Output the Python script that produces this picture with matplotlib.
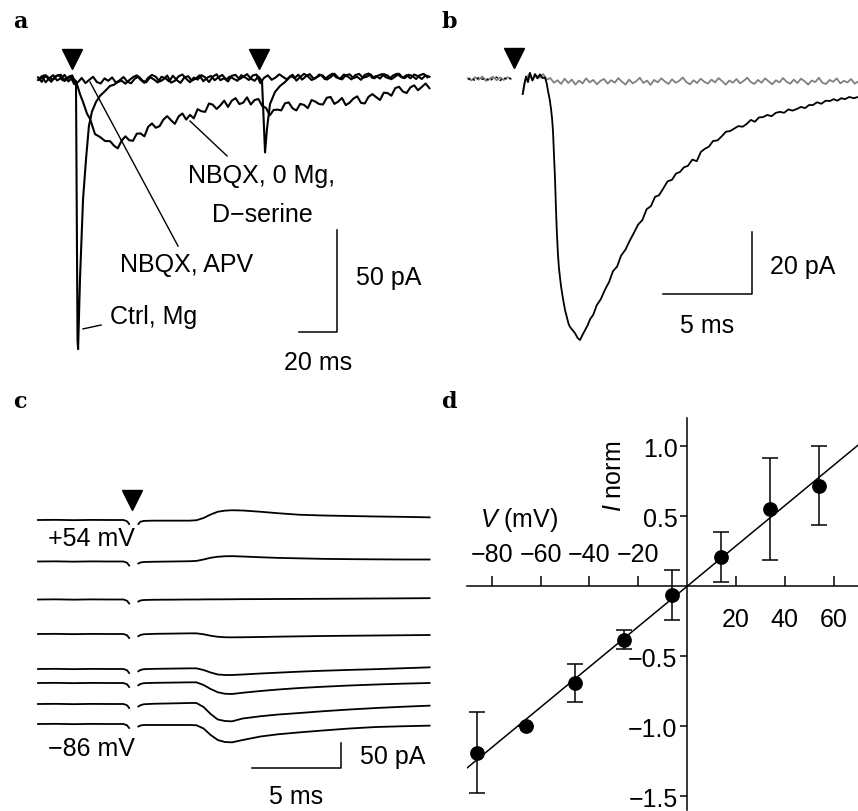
import numpy as np
import matplotlib
matplotlib.use('Agg')
import matplotlib.pyplot as plt

plt.rcParams['font.family'] = 'Liberation Sans'
plt.rcParams['font.size'] = 18
plt.rcParams['mathtext.fontset'] = 'custom'
plt.rcParams['mathtext.rm'] = 'Liberation Sans'
plt.rcParams['mathtext.it'] = 'Liberation Sans:italic'

# ---------------- panel a: EPSCs (ms, pA) ----------------
a_stim = [17.7, 116.3]

a_t_ctrl = [0, 2, 4, 6, 8, 10, 12, 14, 16, 18, 19, 20, 20.8, 21.1, 22.1, 23.7, 25.3, 26.8, 28.4,
            30.5, 32.6, 35.3, 37.9, 40, 42,
            44, 46, 48, 50, 52, 54, 56, 58, 60, 62, 64, 66, 68, 70, 72, 74, 76, 78, 80, 82, 84, 86,
            88, 90, 92, 94, 96, 98, 100, 102, 104, 106, 108, 110, 112, 114, 116,
            117.9, 119.5, 120.5, 122.1, 124.7, 127.4, 130,
            132, 134, 136, 138, 140, 142, 144, 146, 148, 150, 152, 154, 156, 158, 160, 162, 164,
            166, 168, 170, 172, 174, 176, 178, 180, 182, 184, 186, 188, 190, 192, 194, 196, 198,
            200, 202, 204, 206]
a_i_ctrl = [0.8, -1.4, 1.9, 0.3, -0.2, 1.6, 2.1, -1.0, 0.4, 1.8, -0.5, -3, -128, -132.4, -98, -59,
            -39, -23, -16, -11.3, -8.3, -5.9, -3.4, -2.8, -1.5,
            -0.8, -2.3, -0.6, 0.9, 1.8, -0.4, -1.9, 0.6, 2.0, 1.1, -1.3, -0.2, 1.7, -1.8, -0.9,
            1.3, 2.2, 0.1, -1.6, 0.7, -0.3, 1.9, 0.8, -1.5, 1.2, 2.3, -0.6, 0.4, -1.2, 1.6, 2.0,
            -0.1, 1.0, 2.4, 0.2, -0.9, 1.3,
            -1, -36, -24.5, -12.3, -6.4, -3.4, -1.5,
            0.4, 2.1, -0.8, 1.0, 2.5, 1.4, -0.5, 0.3, 2.2, 1.6, -0.3, 0.9, 2.6, 0.6, -0.2, 1.8,
            2.3, 0.4, 1.1, -0.4, 2.0, 2.7, 0.5, 1.5, 0.2, 2.4, 1.7, -0.1, 1.2, 2.6, 0.6, 1.9, 0.3,
            2.2, 1.4, 0.0, 1.8, 1.1]

a_t_apv = [1, 3, 5, 7, 9, 11, 13, 15, 17, 19, 21, 23, 25, 27, 29, 31, 33, 35, 37, 39, 41, 43, 45,
           47, 49, 51, 53, 55, 57, 59, 61, 63, 65, 67, 69, 71, 73, 75, 77, 79, 81, 83, 85, 87, 89,
           91, 93, 95, 97, 99, 101, 103, 105, 107, 109, 111, 113, 115, 117, 119, 121, 123, 125,
           127, 129, 131, 133, 135, 137, 139, 141, 143, 145, 147, 149, 151, 153, 155, 157, 159,
           161, 163, 165, 167, 169, 171, 173, 175, 177, 179, 181, 183, 185, 187, 189, 191, 193,
           195, 197, 199, 201, 203, 205]
a_i_apv = [-0.3, 1.8, 0.6, -1.4, 1.2, 2.0, -0.7, 0.4, 1.5, -2.5,
           -1.6, 0.5, -2.0, -0.4, 1.1, -1.5, -2.2, 0.3, -0.9, 0.8,
           -1.8, -0.6, 1.0, -1.3, -2.1, 0.2, 1.2, -0.8, -1.6, 0.9,
           -0.2, -1.7, 1.1, 0.4, -1.2, 1.6, -0.5, -1.9, 0.7, 1.4,
           -0.8, 0.2, 1.8, -1.1, 0.6, 1.5, -0.6, 0.9, 2.0, -0.3,
           1.2, 0.1, -0.9, 1.9, 0.8, -0.5, 1.7, 2.2, -2.0, 0.6,
           1.8, -0.4, 0.7, 2.3, 1.0, -0.2, 1.6, 0.4, 2.1, -0.3,
           1.3, 2.4, 0.2, 1.0, 2.0, -0.1, 1.5, 2.6, 0.8, 0.1,
           2.2, 1.2, -0.2, 1.9, 2.5, 0.6, 1.1, 2.3, 0.3, 1.7,
           2.4, 0.9, 0.2, 1.8, 2.6, 1.0, 0.4, 2.1, 1.5, 0.0,
           1.9, 2.5, 0.8]

a_t_nmda = [0, 2, 4, 6, 8, 10, 12, 14, 16, 18, 20, 22.1, 23.7, 25.8, 27.4, 30, 32.6, 35.3,
            38, 40, 42, 44, 46, 48, 50, 52, 54, 56, 58, 60, 62, 64, 66, 68, 70, 72, 74, 76, 78,
            80, 82, 84, 86, 88, 90, 92, 94, 96, 98, 100, 102, 104, 106, 108, 110, 112, 114, 116,
            118, 120, 122, 124, 126, 128, 130, 132, 134, 136, 138, 140, 142, 144, 146, 148, 150,
            152, 154, 156, 158, 160, 162, 164, 166, 168, 170, 172, 174, 176, 178, 180, 182, 184,
            186, 188, 190, 192, 194, 196, 198, 200, 202, 204, 206]
a_i_nmda = [-0.5, 1.4, -1.6, 0.4, 1.9, -0.7, 0.3, 2.0, -1.2, 0.6,
            -1, -7.4, -11.3, -17, -19.6, -27, -28.4, -30.4,
            -30.5, -32.7, -34.0, -30.2, -28.1, -30.0, -30.3, -26.8, -26.7, -28.1,
            -23.4, -21.8, -23.9, -23.1, -19.9, -18.2, -20.2, -22.0, -18.4, -16.9,
            -19.9, -17.6, -19.3, -14.8, -15.8, -16.1, -12.0, -12.6, -14.7, -12.9,
            -10.6, -13.7, -10.6, -9.4, -12.3, -11.6, -9.0, -12.5, -10.3, -9.8,
            -13.2, -14.2, -17.8, -15.2, -15.0, -15.4, -11.9, -11.5, -14.4, -15.4,
            -12.2, -12.7, -14.3, -10.3, -11.1, -12.3, -12.5, -9.2, -8.8, -12.2,
            -11.1, -9.3, -12.8, -11.6, -9.6, -8.5, -11.7, -12.0, -8.7, -7.4,
            -8.9, -10.3, -6.7, -6.9, -8.2, -4.5, -3.8, -6.1, -6.9, -4.1,
            -3.1, -5.5, -3.9, -2.2, -4.5]

# ---------------- panel b: NMDA EPSC with / without APV (ms, pA) ----------------
b_stim = [2.57]
b_t_pre = [0, 0.2, 0.4, 0.6, 0.8, 1.0, 1.2, 1.4, 1.6, 1.8, 2.0, 2.2, 2.4]
b_gray_pre = [0.3, -0.5, 0.6, -0.2, 0.8, -0.6, 0.1, 0.7, -0.4, 0.5, -0.3, 0.6, 0.0]
b_black_pre = [-0.2, 0.4, -0.6, 0.5, -0.1, 0.3, -0.7, 0.2, 0.6, -0.5, 0.4, -0.2, 0.3]

b_t_gray = [3.05, 3.2, 3.4, 3.6, 3.8, 4.0, 4.2, 4.4, 4.6, 4.8, 5.0, 5.2, 5.4, 5.6, 5.8, 6.0, 6.2,
            6.4, 6.6, 6.8, 7.0, 7.2, 7.4, 7.6, 7.8, 8.0, 8.2, 8.4, 8.6, 8.8, 9.0, 9.2, 9.4, 9.6,
            9.8, 10.0, 10.2, 10.4, 10.6, 10.8, 11.0, 11.2, 11.4, 11.6, 11.8, 12.0, 12.2, 12.4,
            12.6, 12.8, 13.0, 13.2, 13.4, 13.6, 13.8, 14.0, 14.2, 14.4, 14.6, 14.8, 15.0, 15.2,
            15.4, 15.6, 15.8, 16.0, 16.2, 16.4, 16.6, 16.8, 17.0, 17.2, 17.4, 17.6, 17.8, 18.0,
            18.2, 18.4, 18.6, 18.8, 19.0, 19.2, 19.4, 19.6, 19.8, 20.0, 20.2, 20.4, 20.6, 20.8,
            21.0, 21.2, 21.4, 21.6, 21.8]
b_i_gray = [-4.8,
            -0.8, 1.5, -0.3, 1.2, 0.4, 1.6, -0.2, 0.3, -1.2, -0.4,
            -1.6, 0.1, -1.3, -0.2, -1.8, -0.5, -1.4, 0.2, -1.1, -0.3,
            -1.7, -0.6, 0.0, -1.5, -0.4, -1.2, 0.3, -0.9, -1.8, -0.2,
            -1.4, -0.7, 0.4, -1.3, -0.5, -1.9, -0.3, -1.1, 0.2, -0.8,
            -1.6, -0.1, -1.2, -0.6, 0.5, -1.0, -1.7, -0.4, -1.3, 0.1,
            -0.9, -1.5, -0.2, -1.1, 0.3, -0.7, -1.8, -0.5, -1.2, 0.0,
            -1.4, -0.6, 0.4, -1.0, -1.6, -0.3, -1.2, 0.2, -0.8, -1.7,
            -0.4, -1.1, 0.3, -0.9, -1.5, -0.2, -1.3, 0.1, -0.7, -1.8,
            -0.5, -1.0, 0.4, -1.2, -1.6, -0.3, -0.9, 0.2, -1.4, -0.6,
            -1.1, 0.0, -1.5, -0.8]

b_t_black = [3.06, 3.15, 3.24, 3.35, 3.46, 3.6, 3.74, 3.88, 4.02, 4.16, 4.30, 4.40, 4.47, 4.56,
             4.64, 4.70, 4.75, 4.80, 4.86, 4.91, 4.96, 5.02, 5.08, 5.2, 5.31, 5.42, 5.53, 5.62,
             5.70, 5.84, 5.98, 6.12, 6.26, 6.4, 6.54, 6.68, 6.82, 7.0, 7.19, 7.42, 7.65, 7.88,
             8.10, 8.33, 8.55, 8.8, 9.05, 9.28, 9.50, 9.74, 9.98, 10.22, 10.45, 10.67, 10.89,
             11.15, 11.40, 11.62, 11.84, 12.06, 12.29, 12.53, 12.78, 13.01, 13.24, 13.46, 13.69,
             13.94, 14.19, 14.41, 14.64, 14.87, 15.1, 15.34, 15.57, 15.8, 16.03, 16.25, 16.48,
             16.72, 16.96, 17.2, 17.43, 17.66, 17.9, 18.13, 18.36, 18.6, 18.83, 19.05, 19.27,
             19.5, 19.74, 19.98, 20.22, 20.43, 20.64, 20.85, 21.06, 21.3, 21.55, 21.79]
b_i_black = [-4.8, -1.5, 0.8, -1.0, 2.0, -0.5, 1.6, 0.2, 1.5, 0.3, 0.5, -1.5, -3.9, -6.5,
             -9.7, -13, -17, -24, -32, -41, -49, -56, -61, -67, -71, -74.5, -77, -79,
             -80, -81, -82, -83.5, -84.2, -82.5, -81, -79.5, -77.5, -76, -73, -71, -68, -65.5,
             -62, -60.5, -57, -55, -52, -49.5, -47, -45.5, -42, -41, -38, -37.5, -35.5,
             -33, -32.5, -30.5, -30, -28.5, -28, -26, -26.5, -23.5, -22.5, -21.8, -20,
             -19.8, -18.4, -17, -16.8, -16, -15.2, -15.4, -14.5, -13.2, -13.8, -12.4, -12.3,
             -11.6, -12, -10.9, -10.6, -10.9, -9.8, -10.2, -9.7, -9, -9.4, -8.4, -8.4,
             -7.5, -8, -7, -7.1, -6.5, -7, -6.2, -6.5, -5.8, -6.2, -5.8]

# ---------------- panel c: currents at holding potentials (ms, pA) ----------------
c_stim = [5.26]
c_volts = [54, 34, 14, -6, -26, -46, -66, -86]
c_t_pre = [0, 1, 2, 3, 4, 4.8, 5.0, 5.12]
c_i_pre = [0, 0.3, -0.3, 0.2, 0, 0, -2.5, -8]
c_t_post = [5.64, 5.75, 5.95, 6.5, 7.5, 8.5, 8.9, 9.3, 9.7, 10.1, 10.5, 10.9, 11.5, 12.5, 13.5,
            14.7, 16, 17.5, 19, 20.5, 22]
c_i_post = [
    [-8, -3.5, -1.8, -1.3, -1.3, -1.3, -0.5, 4, 11, 16.5, 18.7, 19.5, 19, 16.5, 13.5, 10.5, 9, 8, 7, 6.3, 5.3],
    [-4, -2, -1, -0.5, 0, 0.5, 1.2, 4, 7.5, 9.5, 10.5, 10.7, 10, 8.5, 7.2, 6.3, 5.3, 4.7, 4.3, 4, 4],
    [-4, -2, -1, -0.5, -0.3, 0, 0, 0.2, 0.3, 0.3, 0.4, 0.5, 0.7, 0.8, 1, 1.2, 1.4, 1.7, 2, 2.3, 2.7],
    [-4.5, -2, -0.5, 0.3, 0.8, 1.3, 1.3, -0.5, -3.5, -5.5, -6.5, -6.7, -6.5, -6, -5.3, -4.7, -4, -3.5, -3, -2.5, -2],
    [-4.5, -2, -0.3, 0.3, 0.8, 1.3, 1.3, -2, -7, -11, -12, -12, -11, -9, -7.3, -5.3, -3.5, -1.8, -0.3, 1.5, 3.3],
    [-4.5, -2, -0.3, 0.3, 0.8, 1.3, 1.3, -4, -12, -18.5, -21.5, -22, -19.5, -16, -13, -10, -7.5, -5, -3, -1.3, 0],
    [-5, -2.5, -0.5, 0.5, 1.2, 2, 2, -6, -20, -31, -34, -34.7, -29, -24.5, -21, -18, -14.5, -11, -8, -5.5, -3.3],
    [-5, -3, -2, -2, -2, -2, -2.5, -9, -22, -32, -36, -36.7, -32, -25, -20.5, -16.7, -13, -9, -6, -4.5, -3.3],
]

# ---------------- panel d: I-V relation ----------------
d_v = [-86, -66, -46, -26, -6, 14, 34, 54]
d_i = [-1.19, -1.0, -0.69, -0.38, -0.06, 0.21, 0.55, 0.72]
d_err = [0.29, 0.0, 0.135, 0.065, 0.18, 0.176, 0.364, 0.28]
d_slope = 0.0144
d_xticks = [-80, -60, -40, -20, 20, 40, 60]
d_yticks = [-1.5, -1.0, -0.5, 0.5, 1.0]

W, H = 858, 812
fig = plt.figure(figsize=(W / 100, H / 100), dpi=100)


def px_axes(x0, y0, x1, y1):
    return fig.add_axes([x0 / W, 1 - y1 / H, (x1 - x0) / W, (y1 - y0) / H])


def minus(s):
    return s.replace('-', '\u2212')


lab_kw = dict(family='DejaVu Serif', fontweight='bold', fontsize=16, va='baseline')
fig.text(13 / W, 1 - 28 / H, 'a', **lab_kw)
fig.text(442 / W, 1 - 28 / H, 'b', **lab_kw)
fig.text(13 / W, 1 - 408 / H, 'c', **lab_kw)
fig.text(441 / W, 1 - 408 / H, 'd', **lab_kw)

# ---- a ----
ax = px_axes(0, 30, 440, 380)
ax.axis('off')
ax.set_xlim((0 - 38) / 1.9, (440 - 38) / 1.9)
ax.set_ylim((80 - 380) / 2.04, (80 - 30) / 2.04)
ax.plot(a_t_apv, a_i_apv, color='k', lw=1.5)
ax.plot(a_t_nmda, a_i_nmda, color='k', lw=1.5)
ax.plot(a_t_ctrl, a_i_ctrl, color='k', lw=1.5)
ax.plot(a_stim, [9.8] * len(a_stim), 'v', color='k', ms=15, ls='none')
ax.plot([80, 99.5], [-20.6, -37.7], color='k', lw=1.0)
ax.plot([27.4, 73.7], [-1.5, -81.9], color='k', lw=1.0)
ax.plot([23.7, 33.2], [-122.5, -120.6], color='k', lw=1.0)
ax.text(117.7, -47.1, 'NBQX, 0 Mg,', ha='center', va='center')
ax.text(118.2, -66.2, 'D\u2212serine', ha='center', va='center')
ax.text(78.4, -90.7, 'NBQX, APV', ha='center', va='center')
ax.text(37.9, -116.2, 'Ctrl, Mg', ha='left', va='center')
ax.plot([137.4, 157.4, 157.4], [-124, -124, -74], color='k', lw=1.1)
ax.text(167.4, -97, '50 pA', ha='left', va='center')
ax.text(147.4, -138.7, '20 ms', ha='center', va='center')

# ---- b ----
ax = px_axes(440, 30, 858, 380)
ax.axis('off')
ax.set_xlim((440 - 468) / 17.9, (858 - 468) / 17.9)
ax.set_ylim((80 - 380) / 3.1, (80 - 30) / 3.1)
ax.plot(b_t_pre, b_gray_pre, color='0.5', lw=1.3)
ax.plot(b_t_pre, b_black_pre, color='k', lw=1.0, dashes=(2, 2))
ax.plot(b_t_gray, b_i_gray, color='0.5', lw=1.3)
ax.plot(b_t_black, b_i_black, color='k', lw=1.3)
ax.plot(b_stim, [6.8], 'v', color='k', ms=15, ls='none')
ax.plot([10.87, 15.87, 15.87], [-69.4, -69.4, -49.4], color='k', lw=1.1)
ax.text(16.87, -60.3, '20 pA', ha='left', va='center')
ax.text(13.35, -79.2, '5 ms', ha='center', va='center')

# ---- c ----
ax = px_axes(0, 420, 440, 812)
ax.axis('off')
ax.set_xlim((0 - 38) / 17.8, (440 - 38) / 17.8)
ax.set_ylim((521 - 812) / 0.5, (521 - 420) / 0.5)
shift = [0, -83, -159, -228, -298, -326, -368, -408]
for k in range(len(c_volts)):
    ax.plot(c_t_pre, np.array(c_i_pre) + shift[k], color='k', lw=1.3)
    ax.plot(c_t_post, np.array(c_i_post[k]) + shift[k], color='k', lw=1.3)
ax.plot(c_stim, [40], 'v', color='k', ms=15, ls='none')
ax.text(3.0, -36, minus(f'{c_volts[0]:+d} mV'), ha='center', va='center')
ax.text(3.0, -456, minus(f'{c_volts[-1]:+d} mV'), ha='center', va='center')
ax.plot([12.0, 17.0, 17.0], [-496, -496, -446], color='k', lw=1.1)
ax.text(18.09, -472, '50 pA', ha='left', va='center')
ax.text(14.49, -552, '5 ms', ha='center', va='center')

# ---- d ----
ax = px_axes(467.3, 419.3, 858, 811.3)
ax.set_xlim(-90, 70)
ax.set_ylim(-1.6, 1.2)
ax.patch.set_visible(False)
for s in ['top', 'right']:
    ax.spines[s].set_visible(False)
ax.spines['left'].set_position(('data', 0))
ax.spines['bottom'].set_position(('data', 0))
for s in ['left', 'bottom']:
    ax.spines[s].set_linewidth(1.1)
ax.set_xticks(d_xticks)
ax.tick_params(axis='x', direction='in', length=7, width=1.1, labelbottom=False)
ax.set_yticks(d_yticks, labels=[minus(f'{v:.1f}') for v in d_yticks])
ax.tick_params(axis='y', direction='out', length=5.3, width=1.1, pad=1.5, labelsize=18)
for v in d_xticks:
    off = 23 if v < 0 else -23.5
    ax.annotate(minus(str(v)), (v, 0), xytext=(0, off), textcoords='offset points',
                ha='center', va='center')
ax.axline((0, 0), slope=d_slope, color='k', lw=1.1)
ax.errorbar(d_v, d_i, yerr=d_err, fmt='o', color='k', ms=9.6, capsize=5.5,
            elinewidth=1.1, capthick=1.1, clip_on=False)
ax.text(-68.6, 0.48, '$V$ (mV)', ha='center', va='center')
ax.text(-30.0, 0.795, '$I$ norm', ha='center', va='center', rotation=90)

fig.savefig('out.png', dpi=100)
